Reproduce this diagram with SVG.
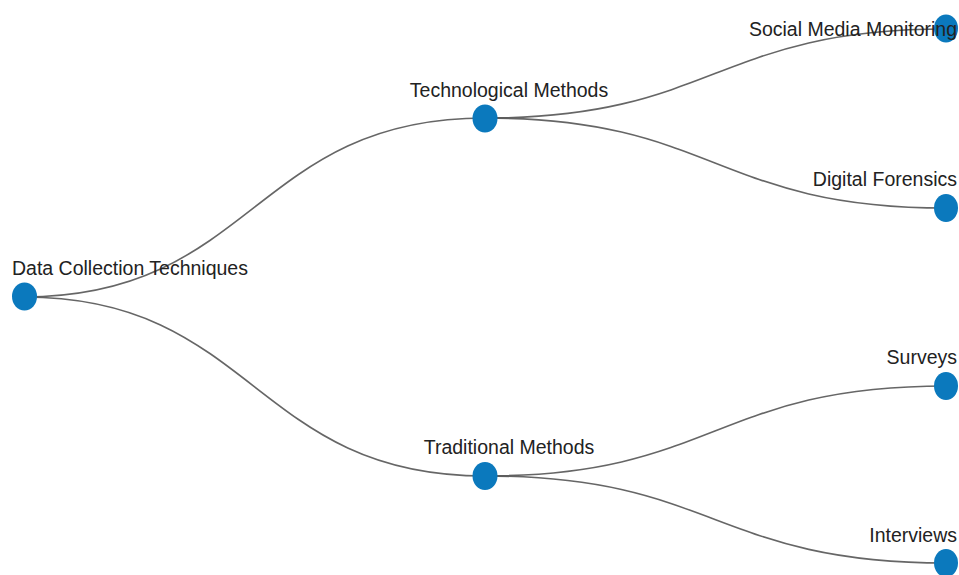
<svg xmlns="http://www.w3.org/2000/svg" width="959" height="575" viewBox="0 0 959 575">
<style>
.link{fill:none;stroke:#555;stroke-width:1.6;stroke-opacity:0.9}
.node ellipse{fill:#0b79bd}
.node text{font-family:"Liberation Sans",Arial,sans-serif;font-size:19.5px;fill:#222}
</style>
<rect width="959" height="575" fill="#fff"/>
<g id="connectors">
<path class="link" d="M24,297 C254,297 254,118 485,118"/>
<path class="link" d="M24,297 C254,297 254,476 485,476"/>
<path class="link" d="M485,118 C715,118 715,29 946,29"/>
<path class="link" d="M485,118 C715,118 715,208 946,208"/>
<path class="link" d="M485,476 C715,476 715,386 946,386"/>
<path class="link" d="M485,476 C715,476 715,563 946,563"/>
</g>
<g id="node-root" class="node"><ellipse cx="24.5" cy="296.5" rx="12.5" ry="14"/><text x="12" y="275">Data Collection Techniques</text></g>
<g id="node-tech" class="node"><ellipse cx="485" cy="118.5" rx="12.5" ry="14"/><text x="509" y="97" text-anchor="middle">Technological Methods</text></g>
<g id="node-trad" class="node"><ellipse cx="485" cy="476" rx="12.5" ry="14"/><text x="509" y="454" text-anchor="middle">Traditional Methods</text></g>
<g id="node-social" class="node"><ellipse cx="946" cy="28.5" rx="12" ry="14"/><text x="957" y="36" text-anchor="end">Social Media Monitoring</text></g>
<g id="node-digital" class="node"><ellipse cx="946" cy="208" rx="12" ry="14"/><text x="957" y="186" text-anchor="end">Digital Forensics</text></g>
<g id="node-surveys" class="node"><ellipse cx="946" cy="386" rx="12" ry="14"/><text x="957" y="364" text-anchor="end">Surveys</text></g>
<g id="node-interviews" class="node"><ellipse cx="946" cy="563" rx="12" ry="14"/><text x="957" y="542" text-anchor="end">Interviews</text></g>
</svg>
